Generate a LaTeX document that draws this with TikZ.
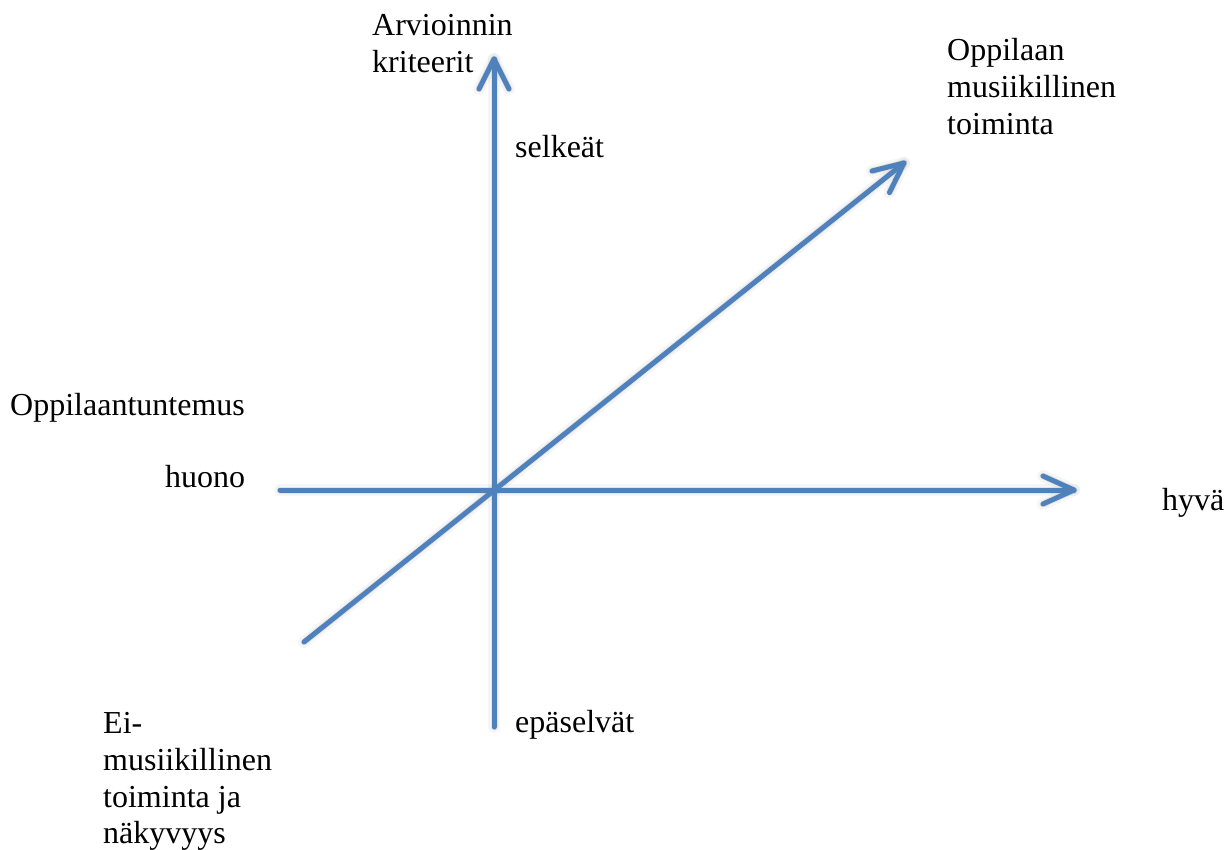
\documentclass[tikz,border=0pt]{standalone}
\usepackage{fontspec}
\setmainfont{Liberation Serif}
\usetikzlibrary{calc}
\definecolor{axisblue}{HTML}{4F81BD}
\begin{document}
\begin{tikzpicture}[x=1pt,y=-1pt,
  lbl/.style={anchor=base west,inner sep=0pt,font=\fontsize{32}{37}\selectfont},
  axis/.style={draw=axisblue,line width=5pt,line cap=round,line join=round},
  shade1/.style={draw=black!60,opacity=0.06,line width=12pt,line cap=round,line join=round},
  shade2/.style={draw=black!60,opacity=0.12,line width=7pt,line cap=round,line join=round}
]
\useasboundingbox (0,0) rectangle (1230,849);
% coordinates
\coordinate (vb) at (494,727);
\coordinate (vt) at (494,59);
\coordinate (hl) at (280,490);
\coordinate (hr) at (1074,490);
\coordinate (db) at (304,642);
\coordinate (dt) at (904,163);
% chevron arm ends
\coordinate (vt1) at ($(vt)+(-15,30)$);
\coordinate (vt2) at ($(vt)+(15,30)$);
\coordinate (hr1) at ($(hr)+(-31,-14)$);
\coordinate (hr2) at ($(hr)+(-31,14)$);
\coordinate (dt1) at ($(dt)+(-32,8)$);
\coordinate (dt2) at ($(dt)+(-14.5,29.5)$);
% shadows
\foreach \s in {shade1,shade2}{
  \begin{scope}[shift={(4,7)}]
  \draw[\s] (vb) -- (vt);
  \draw[\s] (vt1) -- (vt) -- (vt2);
  \draw[\s] (hl) -- (hr);
  \draw[\s] (hr1) -- (hr) -- (hr2);
  \draw[\s] (db) -- (dt);
  \draw[\s] (dt1) -- (dt) -- (dt2);
  \end{scope}
}
% axes
\draw[axis] (vb) -- (vt);
\draw[axis] (vt1) -- (vt) -- (vt2);
\draw[axis] (hl) -- (hr);
\draw[axis] (hr1) -- (hr) -- (hr2);
\draw[axis] (db) -- (dt);
\draw[axis] (dt1) -- (dt) -- (dt2);
% labels
\node[lbl] (a1) at (372,35) {Arvioinnin};
\node[lbl] (a2) at (372,72) {kriteerit};
\node[lbl] (o1) at (947,60) {Oppilaan};
\node[lbl] (o2) at (947,97) {musiikillinen};
\node[lbl] (o3) at (947,134) {toiminta};
\node[lbl] (sel) at (515,157) {selkeät};
\node[lbl] (ot) at (10,415) {Oppilaantuntemus};
\node[lbl] (huo) at (165,487) {huono};
\node[lbl] (hyv) at (1162,510) {hyvä};
\node[lbl] (epa) at (515,732) {epäselvät};
\node[lbl] (e1) at (103,733) {Ei-};
\node[lbl] (e2) at (103,770) {musiikillinen};
\node[lbl] (e3) at (103,807) {toiminta ja};
\node[lbl] (e4) at (103,843) {näkyvyys};
\end{tikzpicture}
\end{document}
